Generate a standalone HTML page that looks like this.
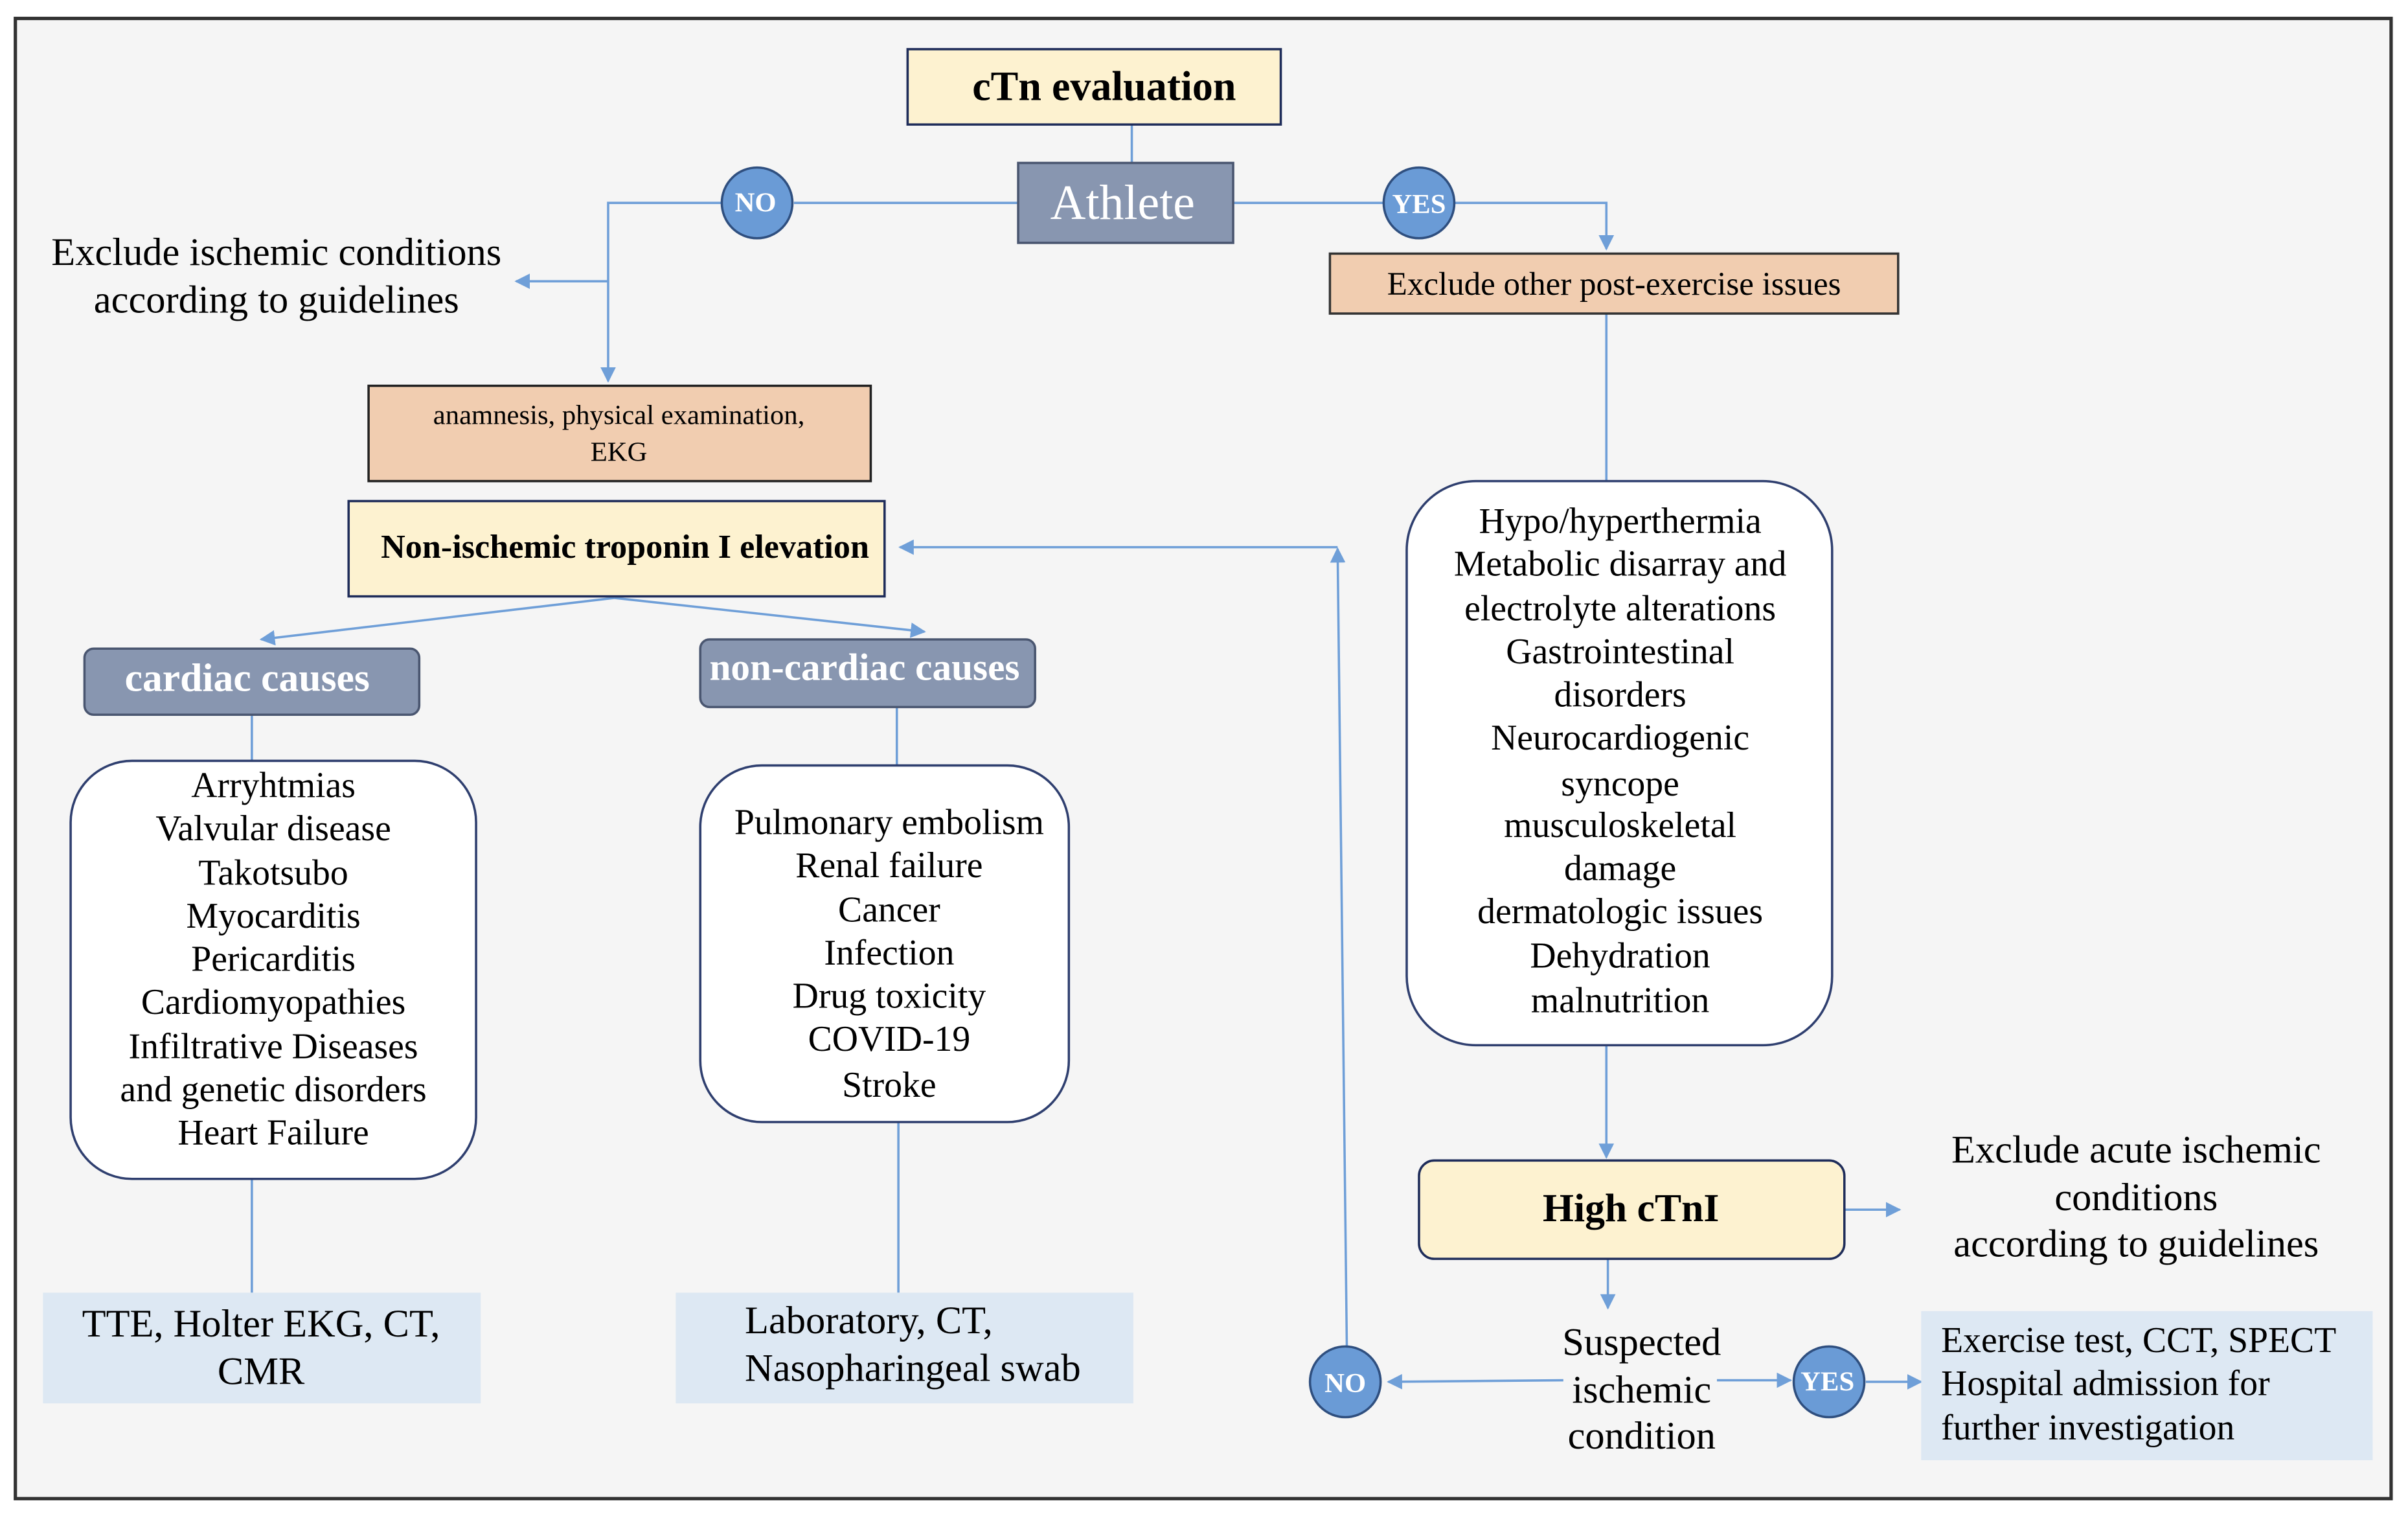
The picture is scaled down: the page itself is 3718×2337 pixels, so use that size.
<!DOCTYPE html>
<html><head><meta charset="utf-8"><style>
html,body{margin:0;padding:0;background:#fff;}
svg{display:block;}
text{font-family:"Liberation Serif","Times New Roman",serif;}
</style></head><body>
<svg width="3718" height="2337" viewBox="0 0 1568 985" preserveAspectRatio="none" xmlns="http://www.w3.org/2000/svg">
<defs>
<marker id="b" viewBox="0 0 10 10" refX="9" refY="5" markerWidth="10" markerHeight="10" orient="auto" markerUnits="userSpaceOnUse">
<path d="M0,0 L10,5 L0,10 z" fill="#6f9fd8"/>
</marker>
</defs>
<rect x="10" y="12" width="1547" height="963" fill="#f5f5f5" stroke="#333" stroke-width="2.2"/>
<g stroke="#6f9fd8" stroke-width="1.5" fill="none">
<line x1="737" y1="81" x2="737" y2="106"/>
<line x1="517" y1="132" x2="663" y2="132"/>
<polyline points="470,132 396,132 396,248" marker-end="url(#b)"/>
<line x1="396" y1="183" x2="336" y2="183" marker-end="url(#b)"/>
<line x1="803" y1="132" x2="901" y2="132"/>
<polyline points="947,132 1046,132 1046,162" marker-end="url(#b)"/>
<line x1="1046" y1="204" x2="1046" y2="313"/>
<line x1="877" y1="876" x2="871" y2="357" marker-end="url(#b)"/>
<line x1="871" y1="356" x2="586" y2="356" marker-end="url(#b)"/>
<line x1="400" y1="389" x2="170" y2="416" marker-end="url(#b)"/>
<line x1="400" y1="389" x2="602" y2="411" marker-end="url(#b)"/>
<line x1="164" y1="465" x2="164" y2="495"/>
<line x1="164" y1="767" x2="164" y2="841"/>
<line x1="584" y1="460" x2="584" y2="498"/>
<line x1="585" y1="730" x2="585" y2="841"/>
<line x1="1046" y1="680" x2="1046" y2="753" marker-end="url(#b)"/>
<line x1="1201" y1="787" x2="1237" y2="787" marker-end="url(#b)"/>
<line x1="1047" y1="819" x2="1047" y2="851" marker-end="url(#b)"/>
<line x1="1018" y1="898" x2="904" y2="899" marker-end="url(#b)"/>
<line x1="1118" y1="898" x2="1166" y2="898" marker-end="url(#b)"/>
<line x1="1215" y1="899" x2="1251" y2="899" marker-end="url(#b)"/>
</g>
<rect x="591" y="32" width="243" height="49" fill="#fdf2d0" stroke="#1f2d5a" stroke-width="1.5"/>
<text x="719" y="56" font-size="27" font-weight="bold" text-anchor="middle" dominant-baseline="central">cTn evaluation</text>
<rect x="663" y="106" width="140" height="52" fill="#8896b0" stroke="#4a5670" stroke-width="1.5"/>
<text x="731" y="132" font-size="32" fill="#fff" text-anchor="middle" dominant-baseline="central">Athlete</text>
<circle cx="493" cy="132" r="23" fill="#6a9bd6" stroke="#2f4f7f" stroke-width="1.5"/>
<text x="492" y="132" font-size="18" font-weight="bold" fill="#fff" text-anchor="middle" dominant-baseline="central">NO</text>
<circle cx="924" cy="132" r="23" fill="#6a9bd6" stroke="#2f4f7f" stroke-width="1.5"/>
<text x="924" y="133" font-size="18" font-weight="bold" fill="#fff" text-anchor="middle" dominant-baseline="central">YES</text>
<text font-size="25.5" text-anchor="middle" dominant-baseline="central"><tspan x="180" y="164">Exclude ischemic conditions</tspan><tspan x="180" y="195">according to guidelines</tspan></text>
<rect x="866" y="165" width="370" height="39" fill="#f1cdb0" stroke="#333" stroke-width="1.5"/>
<text x="1051" y="185" font-size="21.5" text-anchor="middle" dominant-baseline="central">Exclude other post-exercise issues</text>
<rect x="240" y="251" width="327" height="62" fill="#f1cdb0" stroke="#222" stroke-width="1.5"/>
<text font-size="18" text-anchor="middle" dominant-baseline="central"><tspan x="403" y="270">anamnesis, physical examination,</tspan><tspan x="403" y="294">EKG</tspan></text>
<rect x="227" y="326" width="349" height="62" fill="#fdf2d0" stroke="#1f2d5a" stroke-width="1.5"/>
<text x="407" y="356" font-size="22" font-weight="bold" text-anchor="middle" dominant-baseline="central">Non-ischemic troponin I elevation</text>
<rect x="55" y="422" width="218" height="43" rx="6" fill="#8896b0" stroke="#4a5670" stroke-width="1.5"/>
<text x="161" y="441" font-size="26" font-weight="bold" fill="#fff" text-anchor="middle" dominant-baseline="central">cardiac causes</text>
<rect x="456" y="416" width="218" height="44" rx="6" fill="#8896b0" stroke="#4a5670" stroke-width="1.5"/>
<text x="563" y="434" font-size="25" font-weight="bold" fill="#fff" text-anchor="middle" dominant-baseline="central">non-cardiac causes</text>
<rect x="46" y="495" width="264" height="272" rx="40" fill="#fff" stroke="#2f3f6f" stroke-width="1.5"/>
<text font-size="23.5" text-anchor="middle" dominant-baseline="central">
<tspan x="178" y="511">Arryhtmias</tspan><tspan x="178" y="539">Valvular disease</tspan><tspan x="178" y="568">Takotsubo</tspan><tspan x="178" y="596">Myocarditis</tspan><tspan x="178" y="624">Pericarditis</tspan><tspan x="178" y="652">Cardiomyopathies</tspan><tspan x="178" y="681">Infiltrative Diseases</tspan><tspan x="178" y="709">and genetic disorders</tspan><tspan x="178" y="737">Heart Failure</tspan></text>
<rect x="456" y="498" width="240" height="232" rx="40" fill="#fff" stroke="#2f3f6f" stroke-width="1.5"/>
<text font-size="23.5" text-anchor="middle" dominant-baseline="central">
<tspan x="579" y="535">Pulmonary embolism</tspan><tspan x="579" y="563">Renal failure</tspan><tspan x="579" y="592">Cancer</tspan><tspan x="579" y="620">Infection</tspan><tspan x="579" y="648">Drug toxicity</tspan><tspan x="579" y="676">COVID-19</tspan><tspan x="579" y="706">Stroke</tspan></text>
<rect x="916" y="313" width="277" height="367" rx="45" fill="#fff" stroke="#2f3f6f" stroke-width="1.5"/>
<text font-size="23.5" text-anchor="middle" dominant-baseline="central">
<tspan x="1055" y="339">Hypo/hyperthermia</tspan><tspan x="1055" y="367">Metabolic disarray and</tspan><tspan x="1055" y="396">electrolyte alterations</tspan><tspan x="1055" y="424">Gastrointestinal</tspan><tspan x="1055" y="452">disorders</tspan><tspan x="1055" y="480">Neurocardiogenic</tspan><tspan x="1055" y="510">syncope</tspan><tspan x="1055" y="537">musculoskeletal</tspan><tspan x="1055" y="565">damage</tspan><tspan x="1055" y="593">dermatologic issues</tspan><tspan x="1055" y="622">Dehydration</tspan><tspan x="1055" y="651">malnutrition</tspan></text>
<rect x="28" y="841" width="285" height="72" fill="#dde8f3"/>
<text font-size="25.5" text-anchor="middle" dominant-baseline="central"><tspan x="170" y="861">TTE, Holter EKG, CT,</tspan><tspan x="170" y="892">CMR</tspan></text>
<rect x="440" y="841" width="298" height="72" fill="#dde8f3"/>
<text font-size="25.5" dominant-baseline="central"><tspan x="485" y="859">Laboratory, CT,</tspan><tspan x="485" y="890">Nasopharingeal swab</tspan></text>
<rect x="924" y="755" width="277" height="64" rx="10" fill="#fdf2d0" stroke="#1f2d5a" stroke-width="1.5"/>
<text x="1062" y="786" font-size="26" font-weight="bold" text-anchor="middle" dominant-baseline="central">High cTnI</text>
<text font-size="25.5" text-anchor="middle" dominant-baseline="central"><tspan x="1391" y="748">Exclude acute ischemic</tspan><tspan x="1391" y="779">conditions</tspan><tspan x="1391" y="809">according to guidelines</tspan></text>
<text font-size="25.5" text-anchor="middle" dominant-baseline="central"><tspan x="1069" y="873">Suspected</tspan><tspan x="1069" y="904">ischemic</tspan><tspan x="1069" y="934">condition</tspan></text>
<circle cx="876" cy="899" r="23" fill="#6a9bd6" stroke="#2f4f7f" stroke-width="1.5"/>
<text x="876" y="900" font-size="18" font-weight="bold" fill="#fff" text-anchor="middle" dominant-baseline="central">NO</text>
<circle cx="1191" cy="899" r="23" fill="#6a9bd6" stroke="#2f4f7f" stroke-width="1.5"/>
<text x="1190" y="899" font-size="18" font-weight="bold" fill="#fff" text-anchor="middle" dominant-baseline="central">YES</text>
<rect x="1251" y="853" width="294" height="97" fill="#dde8f3"/>
<text font-size="23.5" dominant-baseline="central"><tspan x="1264" y="872">Exercise test, CCT, SPECT</tspan><tspan x="1264" y="900">Hospital admission for</tspan><tspan x="1264" y="929">further investigation</tspan></text>
</svg>
</body></html>
